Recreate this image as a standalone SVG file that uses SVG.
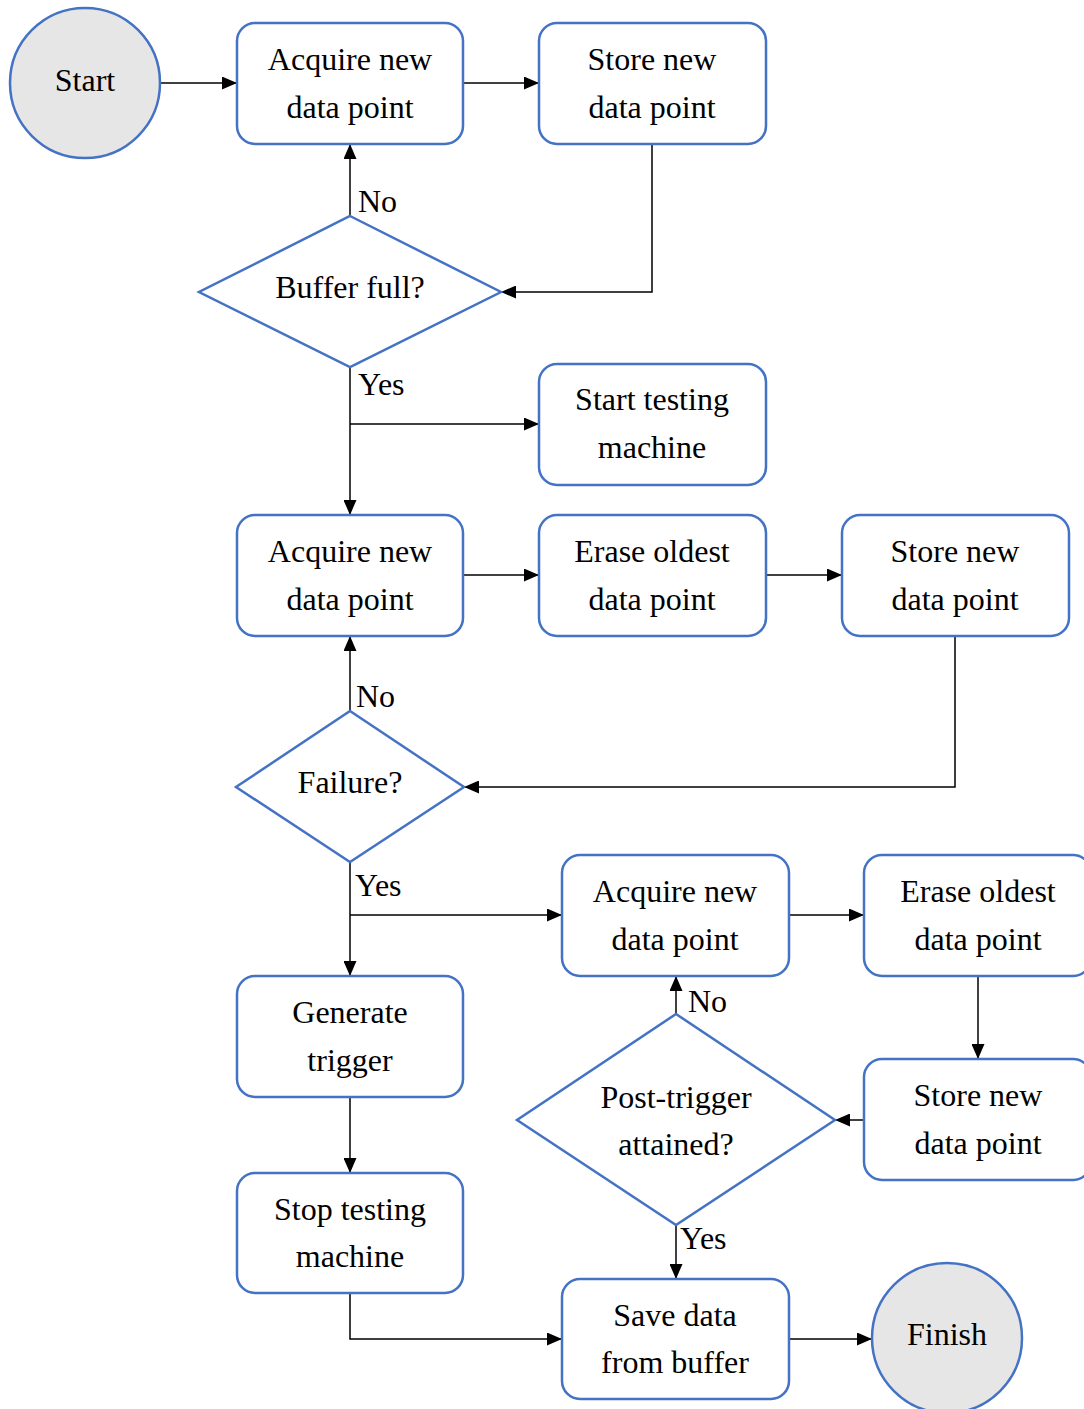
<svg xmlns="http://www.w3.org/2000/svg" width="1084" height="1409" viewBox="0 0 1084 1409">
<style>
.box{fill:#fff;stroke:#4472C4;stroke-width:2.5}
.term{fill:#E7E6E6;stroke:#4472C4;stroke-width:2.5}
.t{font-family:"Liberation Serif","Times New Roman",serif;font-size:32px;fill:#000;text-anchor:middle}
.lbl{font-family:"Liberation Serif","Times New Roman",serif;font-size:32px;fill:#000}
.c{fill:none;stroke:#000;stroke-width:1.5}
</style>
<defs>
<marker id="ah" markerUnits="userSpaceOnUse" markerWidth="15" markerHeight="13" refX="15" refY="6.5" orient="auto">
<path d="M0,0 L15,6.5 L0,13 z" fill="#000"/>
</marker>
</defs>
<rect width="1084" height="1409" fill="#fff"/>
<g id="connectors">
<path class="c" marker-end="url(#ah)" d="M161,83 H237"/>
<path class="c" marker-end="url(#ah)" d="M463,83 H539"/>
<path class="c" marker-end="url(#ah)" d="M652,144 V292 H501"/>
<path class="c" marker-end="url(#ah)" d="M350,216 V144"/>
<path class="c" marker-end="url(#ah)" d="M350,367 V515"/>
<path class="c" marker-end="url(#ah)" d="M350,424 H539"/>
<path class="c" marker-end="url(#ah)" d="M463,575 H539"/>
<path class="c" marker-end="url(#ah)" d="M766,575 H842"/>
<path class="c" marker-end="url(#ah)" d="M955,636 V787 H464"/>
<path class="c" marker-end="url(#ah)" d="M350,711 V636"/>
<path class="c" marker-end="url(#ah)" d="M350,862 V976"/>
<path class="c" marker-end="url(#ah)" d="M350,915 H562"/>
<path class="c" marker-end="url(#ah)" d="M789,915 H864"/>
<path class="c" marker-end="url(#ah)" d="M978,976 V1059"/>
<path class="c" marker-end="url(#ah)" d="M864,1120 H835"/>
<path class="c" marker-end="url(#ah)" d="M676,1014 V976"/>
<path class="c" marker-end="url(#ah)" d="M676,1225 V1279"/>
<path class="c" marker-end="url(#ah)" d="M350,1097 V1173"/>
<path class="c" marker-end="url(#ah)" d="M350,1293 V1339 H562"/>
<path class="c" marker-end="url(#ah)" d="M789,1339 H872"/>
<text class="lbl" x="358" y="212">No</text>
<text class="lbl" x="358" y="395">Yes</text>
<text class="lbl" x="356" y="707">No</text>
<text class="lbl" x="355" y="896">Yes</text>
<text class="lbl" x="688" y="1012">No</text>
<text class="lbl" x="680" y="1249">Yes</text>
</g>
<g id="start"><circle class="term" cx="85" cy="83" r="75"/><text class="t" x="85" y="91">Start</text></g>
<g id="acquire1"><rect class="box" x="237" y="23" width="226" height="121" rx="18"/><text class="t" x="350" y="70">Acquire new</text><text class="t" x="350" y="118">data point</text></g>
<g id="store1"><rect class="box" x="539" y="23" width="227" height="121" rx="18"/><text class="t" x="652" y="70">Store new</text><text class="t" x="652" y="118">data point</text></g>
<g id="bufferfull"><polygon class="box" points="350,216 501,292 350,367 199,292"/><text class="t" x="350" y="298">Buffer full?</text></g>
<g id="starttesting"><rect class="box" x="539" y="364" width="227" height="121" rx="18"/><text class="t" x="652" y="410">Start testing</text><text class="t" x="652" y="458">machine</text></g>
<g id="acquire2"><rect class="box" x="237" y="515" width="226" height="121" rx="18"/><text class="t" x="350" y="562">Acquire new</text><text class="t" x="350" y="610">data point</text></g>
<g id="erase2"><rect class="box" x="539" y="515" width="227" height="121" rx="18"/><text class="t" x="652" y="562">Erase oldest</text><text class="t" x="652" y="610">data point</text></g>
<g id="store2"><rect class="box" x="842" y="515" width="227" height="121" rx="18"/><text class="t" x="955" y="562">Store new</text><text class="t" x="955" y="610">data point</text></g>
<g id="failure"><polygon class="box" points="350,711 464,787 350,862 236,787"/><text class="t" x="350" y="793">Failure?</text></g>
<g id="acquire3"><rect class="box" x="562" y="855" width="227" height="121" rx="18"/><text class="t" x="675" y="902">Acquire new</text><text class="t" x="675" y="950">data point</text></g>
<g id="erase3"><rect class="box" x="864" y="855" width="227" height="121" rx="18"/><text class="t" x="978" y="902">Erase oldest</text><text class="t" x="978" y="950">data point</text></g>
<g id="generate"><rect class="box" x="237" y="976" width="226" height="121" rx="18"/><text class="t" x="350" y="1023">Generate</text><text class="t" x="350" y="1071">trigger</text></g>
<g id="posttrigger"><polygon class="box" points="676,1014 835,1120 676,1225 517,1120"/><text class="t" x="676" y="1108">Post-trigger</text><text class="t" x="676" y="1155">attained?</text></g>
<g id="store3"><rect class="box" x="864" y="1059" width="227" height="121" rx="18"/><text class="t" x="978" y="1106">Store new</text><text class="t" x="978" y="1154">data point</text></g>
<g id="stoptesting"><rect class="box" x="237" y="1173" width="226" height="120" rx="18"/><text class="t" x="350" y="1220">Stop testing</text><text class="t" x="350" y="1267">machine</text></g>
<g id="savedata"><rect class="box" x="562" y="1279" width="227" height="120" rx="18"/><text class="t" x="675" y="1326">Save data</text><text class="t" x="675" y="1373">from buffer</text></g>
<g id="finish"><circle class="term" cx="947" cy="1338" r="75"/><text class="t" x="947" y="1345">Finish</text></g>
</svg>
